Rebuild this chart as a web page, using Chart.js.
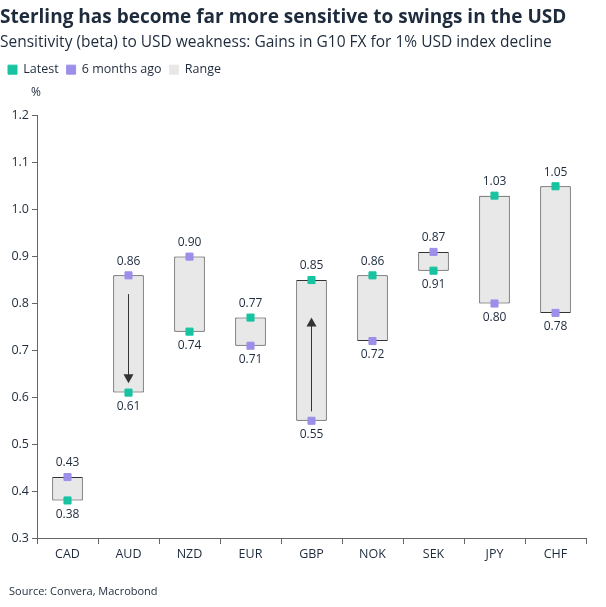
<!DOCTYPE html>
<html><head><meta charset="utf-8">
<script src="https://cdn.jsdelivr.net/npm/chart.js@4/dist/chart.umd.min.js"></script>
<style>html,body{margin:0;padding:0;background:#fff}#w{width:606px;height:607px;position:relative}</style>
</head><body><div id="w"><canvas id="c"></canvas></div>
<script>
const categories=["CAD","AUD","NZD","EUR","GBP","NOK","SEK","JPY","CHF"];
const latest=[0.38,0.61,0.74,0.77,0.85,0.86,0.87,1.03,1.05];
const sixMonthsAgo=[0.43,0.86,0.90,0.71,0.55,0.72,0.91,0.80,0.78];
const yTicks=[0.3,0.4,0.5,0.6,0.7,0.8,0.9,1.0,1.1,1.2];
const swappedLabels=["SEK"];
const arrows=[{cat:"AUD",from:0.82,to:0.63},{cat:"GBP",from:0.57,to:0.77}];
const TEAL="#17C3A0",PURPLE="#9C8FEA",TXT="#1E2B3C";
const FONT="'Open Sans', 'Noto Sans', sans-serif";
const ranges=categories.map((c,i)=>[Math.min(latest[i],sixMonthsAgo[i]),Math.max(latest[i],sixMonthsAgo[i])]);

const legendGap={id:'legendGap',beforeInit(chart){const f=chart.legend.fit;chart.legend.fit=function(){f.bind(chart.legend)();this.height+=30;};}};
const overlay={id:'overlay',afterDatasetsDraw(chart){
  const ctx=chart.ctx,x=chart.scales.x,y=chart.scales.y;
  ctx.save();ctx.font="12px "+FONT;ctx.fillStyle=TXT;ctx.textAlign='center';
  categories.forEach((c,i)=>{
    const px=x.getPixelForValue(i);
    let hi=Math.max(latest[i],sixMonthsAgo[i]),lo=Math.min(latest[i],sixMonthsAgo[i]);
    let tHi=hi,tLo=lo;
    if(swappedLabels.includes(c)){tHi=lo;tLo=hi;}
    ctx.textBaseline='bottom';ctx.fillText(tHi.toFixed(2),px,y.getPixelForValue(hi)-8);
    ctx.textBaseline='top';ctx.fillText(tLo.toFixed(2),px,y.getPixelForValue(lo)+8);
  });
  ctx.strokeStyle="#333";ctx.fillStyle="#333";ctx.lineWidth=1;
  arrows.forEach(a=>{
    const px=x.getPixelForValue(categories.indexOf(a.cat));
    const y1=y.getPixelForValue(a.from),y2=y.getPixelForValue(a.to);
    const d=y2>y1?1:-1;
    ctx.beginPath();ctx.moveTo(px,y1);ctx.lineTo(px,y2-d*8);ctx.stroke();
    ctx.beginPath();ctx.moveTo(px,y2);ctx.lineTo(px-5,y2-d*9);ctx.lineTo(px+5,y2-d*9);ctx.closePath();ctx.fill();
  });
  ctx.font="12px "+FONT;ctx.fillStyle=TXT;ctx.textAlign='left';ctx.textBaseline='middle';
  ctx.fillText("%",31,y.top-23);
  ctx.font="11px "+FONT;ctx.textBaseline='bottom';
  ctx.fillText("Source: Convera, Macrobond",9,chart.height-10);
  ctx.restore();
}};

new Chart(document.getElementById('c'),{
  data:{labels:categories,datasets:[
    {type:'scatter',label:'Latest',data:latest.map((v,i)=>({x:i,y:v})),pointStyle:'rect',pointRadius:5,backgroundColor:TEAL,borderColor:TEAL,order:0},
    {type:'scatter',label:'6 months ago',data:sixMonthsAgo.map((v,i)=>({x:i,y:v})),pointStyle:'rect',pointRadius:5,backgroundColor:PURPLE,borderColor:PURPLE,order:1},
    {type:'bar',label:'Range',data:ranges,backgroundColor:'#E8E8E8',borderColor:'#333',borderWidth:1,borderSkipped:false,barPercentage:0.5,categoryPercentage:1,order:2}
  ]},
  options:{responsive:true,maintainAspectRatio:false,animation:false,
    layout:{padding:{left:0,right:20,top:0,bottom:42}},
    plugins:{
      title:{display:true,text:"Sterling has become far more sensitive to swings in the USD",align:'start',color:TXT,font:{family:FONT,size:19,weight:'bold'},padding:{top:6,bottom:2}},
      subtitle:{display:true,text:"Sensitivity (beta) to USD weakness: Gains in G10 FX for 1% USD index decline",align:'start',color:TXT,font:{family:FONT,size:15.5},padding:{top:2,bottom:4}},
      legend:{align:'start',labels:{color:TXT,font:{family:FONT,size:12.5},usePointStyle:true,pointStyle:'rect',boxWidth:9,boxHeight:9,padding:8,
        generateLabels(chart){return chart.data.datasets.map((d,i)=>({text:d.label,fillStyle:i==2?'#E8E8E8':d.backgroundColor,strokeStyle:i==2?'#E8E8E8':d.backgroundColor,pointStyle:'rect',datasetIndex:i,fontColor:TXT}));}},
        },
      tooltip:{enabled:false}},
    scales:{
      x:{type:'category',labels:categories,offset:true,grid:{display:true,drawOnChartArea:false,offset:true,tickLength:6,color:'#666'},border:{color:'#666'},ticks:{color:TXT,font:{family:FONT,size:12.5}}},
      y:{min:0.3,max:1.2,afterBuildTicks(s){s.ticks=yTicks.map(v=>({value:v}));},
        grid:{display:true,drawOnChartArea:false,tickLength:5,color:'#666'},border:{color:'#666'},
        ticks:{color:TXT,font:{family:FONT,size:12.5},callback:v=>v.toFixed(1)},afterFit(s){s.width=37;}}
    }},
  plugins:[legendGap,overlay]
});
</script></body></html>
